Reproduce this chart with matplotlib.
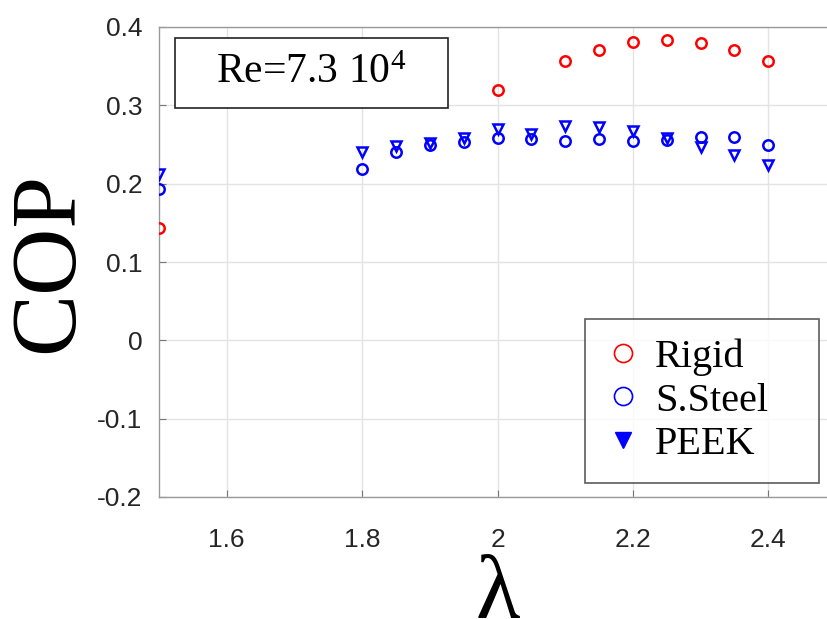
import matplotlib
matplotlib.use("Agg")
import matplotlib.pyplot as plt
from matplotlib.lines import Line2D
from matplotlib.patches import Rectangle

# tip speed ratio values for each series
lam_rigid = [1.5, 2.0, 2.1, 2.15, 2.2, 2.25, 2.3, 2.35, 2.4]
cop_rigid = [0.144, 0.319, 0.357, 0.371, 0.381, 0.384, 0.380, 0.371, 0.357]

lam_flex = [1.5, 1.8, 1.85, 1.9, 1.95, 2.0, 2.05, 2.1, 2.15, 2.2, 2.25, 2.3, 2.35, 2.4]
cop_steel = [0.193, 0.219, 0.240, 0.249, 0.253, 0.258, 0.257, 0.255, 0.257,
             0.255, 0.256, 0.260, 0.259, 0.249]
cop_peek = [0.212, 0.240, 0.248, 0.252, 0.258, 0.270, 0.263, 0.273, 0.272,
            0.267, 0.258, 0.247, 0.237, 0.224]

x_ticks = [1.6, 1.8, 2.0, 2.2, 2.4]
x_ticklabels = ["1.6", "1.8", "2", "2.2", "2.4"]
y_ticks = [-0.2, -0.1, 0, 0.1, 0.2, 0.3, 0.4]
y_ticklabels = ["-0.2", "-0.1", "0", "0.1", "0.2", "0.3", "0.4"]

plt.rcParams["mathtext.fontset"] = "custom"
plt.rcParams["mathtext.rm"] = "Liberation Serif"
plt.rcParams["mathtext.it"] = "Liberation Serif"

serif = "Liberation Serif"
sans = "Liberation Sans"

fig = plt.figure(figsize=(8.28, 6.19), dpi=100)
ax = fig.add_axes([159 / 828, 1 - 497 / 619, 677 / 828, 470 / 619])

ax.plot(lam_rigid, cop_rigid, linestyle="none", marker="o", ms=7.5, mfc="none",
        mec="red", mew=1.8, zorder=3)
ax.plot(lam_flex, cop_steel, linestyle="none", marker="o", ms=7.5, mfc="none",
        mec="blue", mew=1.8, zorder=3)
ax.plot(lam_flex, cop_peek, linestyle="none", marker="v", ms=7.5, mfc="none",
        mec="blue", mew=1.8, zorder=3)

ax.set_xlim(1.5, 2.5)
ax.set_ylim(-0.2, 0.4)
ax.set_xticks(x_ticks)
ax.set_xticklabels(x_ticklabels, family=sans, fontsize=19, color="#262626")
ax.set_yticks(y_ticks)
ax.set_yticklabels(y_ticklabels, family=sans, fontsize=19, color="#262626")
ax.tick_params(direction="in", length=5, width=0.8, color="#777777")
ax.tick_params(axis="x", pad=22)
ax.tick_params(axis="y", pad=12)
ax.grid(True, color="#e3e3e3", linewidth=1)
ax.set_axisbelow(True)
for sp in ax.spines.values():
    sp.set_color("#9a9a9a")
    sp.set_linewidth(1)

ax.set_ylabel("COP", family=serif, fontsize=67, va="center")
ax.yaxis.set_label_coords(-0.161, 0.5)
ax.set_xlabel("λ", family=serif, fontsize=66, va="top")
ax.xaxis.set_label_coords(0.5, -0.123)

# Reynolds number annotation box
ax.add_patch(Rectangle((0.0236, 0.828), 0.403, 0.149, transform=ax.transAxes,
                       facecolor="white", edgecolor="#222222", linewidth=1.2,
                       zorder=4))
ax.text(0.225, 0.902, r"Re=7.3 10$^{4}$", transform=ax.transAxes, family=serif,
        fontsize=30, ha="center", va="center", zorder=5)

handles = [
    Line2D([], [], linestyle="none", marker="o", ms=13, mfc="none", mec="red", mew=1.2),
    Line2D([], [], linestyle="none", marker="o", ms=13, mfc="none", mec="blue", mew=1.2),
    Line2D([], [], linestyle="none", marker="v", ms=12, mfc="blue", mec="blue"),
]
leg = ax.legend(handles, ["Rigid", "S.Steel", "PEEK"], loc="lower left",
                bbox_to_anchor=(0.629, 0.03, 0.346, 0.344), mode="expand",
                prop={"family": serif, "size": 29},
                frameon=True, fancybox=False, edgecolor="#333333",
                labelspacing=0.15, handletextpad=0.35, handlelength=0.9,
                borderpad=0.5, borderaxespad=0)
leg.get_frame().set_linewidth(1.2)

fig.savefig("out.png", dpi=100)
